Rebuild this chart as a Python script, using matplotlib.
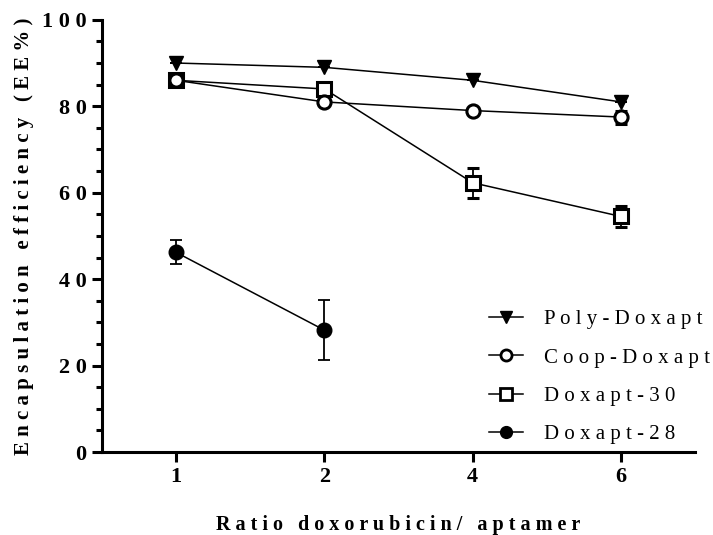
import matplotlib
matplotlib.use("Agg")
import matplotlib.pyplot as plt
from matplotlib.ticker import MultipleLocator, FuncFormatter
from matplotlib.lines import Line2D

categories = ["1", "2", "4", "6"]
series_names = ["Poly-Doxapt", "Coop-Doxapt", "Doxapt-30", "Doxapt-28"]
poly = [90, 89, 86, 81]
poly_err = [0, 0, 0, 0]
coop = [86, 81, 79, 77.5]
coop_err = [0, 0, 0, 1.5]
dox30 = [86, 84, 62.3, 54.5]
dox30_err = [0, 0, 3.5, 2.5]
dox28 = [46.2, 28.2]
dox28_err = [2.8, 7.0]
x_label = "Ratio doxorubicin/ aptamer"
y_label = "Encapsulation efficiency (EE%)"

def spaced(s, gap=" "):
    return gap.join(list(s))

plt.rcParams['font.family'] = ['Liberation Serif', 'DejaVu Serif']

fig = plt.figure(figsize=(7.13, 5.35), dpi=100)
ax = fig.add_axes([0.143, 0.155, 0.832, 0.808])

pos = list(range(len(categories)))
lw = 1.1
common = dict(color='black', linewidth=lw, elinewidth=1.3, capsize=4.5, capthick=1.3)

ax.errorbar(pos, dox30, yerr=dox30_err, marker='s', markersize=9.5, markerfacecolor='white',
            markeredgewidth=2.2, markeredgecolor='black', zorder=3, **common)
ax.errorbar(pos, coop, yerr=coop_err, marker='o', markersize=9.5, markerfacecolor='white',
            markeredgewidth=2.2, markeredgecolor='black', zorder=4, **common)
ax.errorbar(pos, poly, yerr=poly_err, marker='v', markersize=10, markerfacecolor='black',
            markeredgecolor='black', zorder=5, **common)
ax.errorbar(pos[:len(dox28)], dox28, yerr=dox28_err, marker='o', markersize=10.5, markerfacecolor='black',
            markeredgecolor='black', zorder=5, **common)

ax.set_xlim(-0.5, 3.5)
ax.set_ylim(0, 100)
ax.set_xticks(pos)
ax.set_xticklabels(categories)
ax.yaxis.set_major_locator(MultipleLocator(20))
ax.yaxis.set_minor_locator(MultipleLocator(5))
ax.yaxis.set_major_formatter(FuncFormatter(lambda v, p: spaced(str(int(v)))))

for s in ['top', 'right']:
    ax.spines[s].set_visible(False)
for s in ['left', 'bottom']:
    ax.spines[s].set_linewidth(2.2)

ax.tick_params(axis='both', which='major', width=2.2, length=7, labelsize=16, pad=4)
ax.tick_params(axis='y', which='minor', width=2.2, length=4)
for lab in ax.get_xticklabels() + ax.get_yticklabels():
    lab.set_fontweight('bold')

ax.set_xlabel(spaced(x_label), fontsize=14.5, fontweight='bold', labelpad=20)
ax.set_ylabel(spaced(y_label), fontsize=15, fontweight='bold', labelpad=6)

handles = [
    Line2D([], [], color='black', linewidth=lw, marker='v', markersize=8.5, markerfacecolor='black'),
    Line2D([], [], color='black', linewidth=lw, marker='o', markersize=8, markerfacecolor='white', markeredgewidth=2),
    Line2D([], [], color='black', linewidth=lw, marker='s', markersize=8, markerfacecolor='white', markeredgewidth=2),
    Line2D([], [], color='black', linewidth=lw, marker='o', markersize=8.5, markerfacecolor='black'),
]
leg = ax.legend(handles, [spaced(n) for n in series_names],
                loc='upper left', bbox_to_anchor=(0.62, 0.373), frameon=False,
                fontsize=15, handlelength=1.65, handletextpad=1.0, labelspacing=0.9)

fig.savefig("out.png", dpi=100)
